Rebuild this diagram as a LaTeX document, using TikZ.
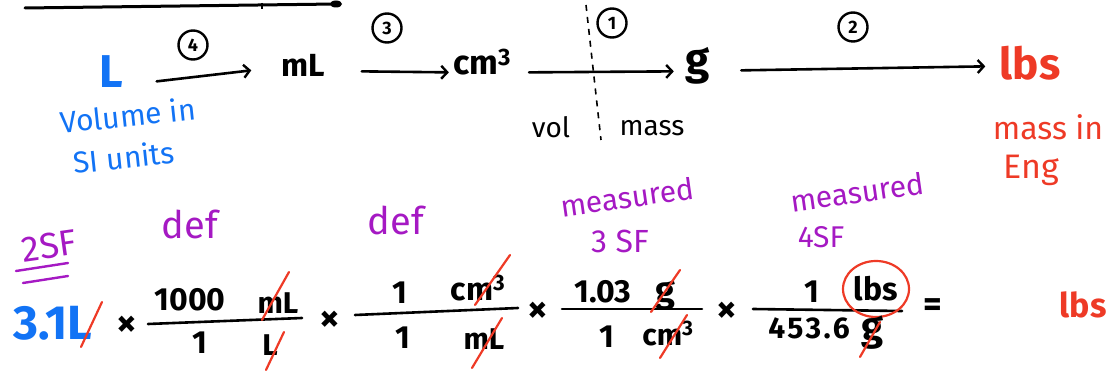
\documentclass[tikz,border=0pt]{standalone}
\usepackage{fontspec}
\setmainfont{Fira Sans}
\usetikzlibrary{arrows.meta}
\definecolor{inkblue}{RGB}{18,115,245}
\definecolor{inkred}{RGB}{238,58,38}
\definecolor{inkpurple}{RGB}{165,25,195}
\newcommand{\handsize}[1]{\fontsize{#1}{#1}\selectfont}
\tikzset{
  txt/.style={inner sep=0pt, font=\handsize{#1}\bfseries},
  txt/.default=30,
  note/.style={inner sep=0pt, font=\handsize{#1}},
  note/.default=28,
  conv/.style={line width=2.6pt, line cap=round, -{Straight Barb[length=6pt,width=13pt,line width=2.4pt]}},
  circnum/.style={draw, circle, line width=2.4pt, minimum size=29pt, inner sep=0pt, font=\handsize{18}\bfseries},
  fracbar/.style={line width=2.6pt, line cap=round},
  strike/.style={inkred, line width=2.2pt, line cap=round},
}
\begin{document}
\begin{tikzpicture}[x=1pt,y=-1pt]
  \useasboundingbox (0,0) rectangle (1110,371);
  % cut-off arrow at the top
  \coordinate (topL) at (25,8);
  \coordinate (topR) at (336,4);
  \draw[line width=3pt, line cap=round] (topL) -- (topR);
  \fill (topR) ellipse (6pt and 3.5pt);
  \draw[line width=2pt] (262,3) -- (262,9);

  % chain of units
  \node[txt=46, text=inkblue, anchor=base, minimum width=41pt] (L) at (111,88) {L};
  \node[txt=32, anchor=base, minimum width=67pt] (mL) at (303,77) {mL};
  \node[txt=34, anchor=base, minimum width=50pt] (cm) at (482,75) {cm\textsuperscript{3}};
  \node[txt=44, anchor=base, minimum width=26pt] (g) at (698,75) {g};
  \node[txt=44, text=inkred, anchor=base, minimum width=65pt] (lbs) at (1030,80) {lbs};
  \draw[conv] ([shift={(25,-4)}]L.mid east) -- ([shift={(-18,-4)}]mL.mid west);
  \draw[conv] ([shift={(25,-3)}]mL.mid east) -- ([shift={(-4,0)}]cm.mid west);
  \draw[conv] ([shift={(18,0)}]cm.mid east) -- ([shift={(-11,-1)}]g.mid west);
  \draw[conv] ([shift={(30,-2)}]g.mid east) -- ([shift={(-12,-11)}]lbs.mid west);
  \node[circnum] (n4) at (193,45) {4};
  \node[circnum] (n3) at (387,28) {3};
  \node[circnum] (n1) at (612,23) {1};
  \node[circnum] (n2) at (853,27) {2};

  \coordinate (divtop) at (586,5);
  \coordinate (divbot) at (601,140);
  \draw[line width=1.6pt, dash pattern=on 6pt off 6pt] (divtop) -- (divbot);
  \node[note=28] (vol) at (551,127) {vol};
  \node[note=28] (mass) at (652,128) {mass};

  \node[note=30, text=inkblue, rotate=6] (volSI) at (128,115) {Volume in};
  \node[note=30, text=inkblue, rotate=6] (unitsSI) at (124,157) {SI units};
  \node[note=32, text=inkred] (massEng) at (1048,127) {mass in};
  \node[note=34, text=inkred] (eng) at (1031,170) {Eng};

  % notes above the factors
  \node[note=36, text=inkpurple, rotate=8] (sf2) at (49,246) {2SF};
  \draw[inkpurple, line width=2.4pt, line cap=round] (16,271) -- (68,263);
  \draw[inkpurple, line width=2.4pt, line cap=round] (23,283) -- (68,276);
  \node[note=38, text=inkpurple] (def1) at (190,224) {def};
  \node[note=38, text=inkpurple] (def2) at (396,220) {def};
  \node[note=30, text=inkpurple, rotate=8] (meas1) at (627,197) {measured};
  \node[note=32, text=inkpurple] (sf3) at (620,241) {3 SF};
  \node[note=30, text=inkpurple, rotate=8] (meas2) at (857,192) {measured};
  \node[note=30, text=inkpurple] (sf4) at (821,237) {4SF};

  % the conversion
  \node[txt=48, text=inkblue] (given) at (53,323) {3.1L};
  \node[txt=40] (x1) at (127,326) {×};
  \draw[fracbar] (148,324) -- (302,318);
  \node[txt=32] (numA) at (190,300) {1000};
  \node[txt=30] (numAu) at (278,303) {mL};
  \node[txt=32] (denA) at (200,343) {1};
  \node[txt=30] (denAu) at (270,345) {L};
  \node[txt=40] (x2) at (330,321) {×};
  \draw[fracbar] (355,315) -- (518,308);
  \node[txt=32] (numB) at (400,293) {1};
  \node[txt=32, anchor=base] (numBu) at (478,300) {cm\textsuperscript{3}};
  \node[txt=32] (denB) at (403,338) {1};
  \node[txt=30] (denBu) at (484,339) {mL};
  \node[txt=40] (x3) at (538,312) {×};
  \draw[fracbar] (562,309) -- (702,309);
  \node[txt=32] (numC) at (603,292) {1.03};
  \node[txt=36, anchor=base] (numCu) at (665,302) {g};
  \node[txt=32] (denC) at (607,337) {1};
  \node[txt=30, anchor=base] (denCu) at (668,345) {cm\textsuperscript{3}};
  \node[txt=40] (x4) at (727,312) {×};
  \draw[fracbar] (753,309) -- (902,311);
  \node[txt=32] (numD) at (812,292) {1};
  \node[txt=32] (numDu) at (876,289) {lbs};
  \draw[inkred, line width=2.2pt] (numDu.center) ellipse (33pt and 28pt);
  \node[txt=30] (denD) at (809,328) {\addfontfeatures{LetterSpace=8}453.6};
  \node[txt=40, anchor=base] (denDu) at (873,340) {g};
  \node[txt=36] (eq) at (933,308) {=};
  \node[txt=34, text=inkred] (result) at (1083,305) {lbs};

  % cancelled units
  \draw[strike] (81,347) -- (102,302);
  \draw[strike] (262,320) -- (289,272);
  \draw[strike] (266,370) -- (284,332);
  \draw[strike] (475,305) -- (510,255);
  \draw[strike] (472,368) -- (502,318);
  \draw[strike] (651,312) -- (680,270);
  \draw[strike] (660,358) -- (687,315);
  \draw[strike] (860,357) -- (880,322);
\end{tikzpicture}
\end{document}
